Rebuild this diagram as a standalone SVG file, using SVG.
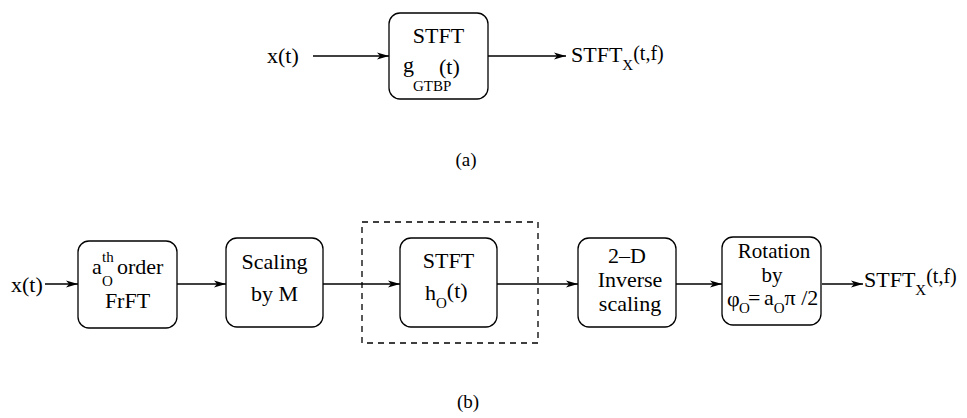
<svg xmlns="http://www.w3.org/2000/svg" width="967" height="418" viewBox="0 0 967 418">
<defs>
<marker id="ah" markerUnits="userSpaceOnUse" markerWidth="13" markerHeight="8" refX="12" refY="4" orient="auto">
<path d="M0,0.6 L12,4 L0,7.4 L3,4 z" fill="#000"/>
</marker>
<style>
text{font-family:"Liberation Serif","Times New Roman",Times,"DejaVu Serif",serif}
.t{font-size:22px;fill:#000}
.r{font-size:21px}
.s{font-size:15px}
.m{text-anchor:middle}
.box{fill:#fff;stroke:#000;stroke-width:1.3}
.ln{fill:none;stroke:#000;stroke-width:1.3;marker-end:url(#ah)}
.dash{fill:none;stroke:#000;stroke-width:1.3;stroke-dasharray:6 5}
.lbl{font-size:19px;fill:#000}
</style>
</defs>
<rect width="967" height="418" fill="#fff"/>
<g id="connectors">
<line class="ln" x1="313" y1="56" x2="389" y2="56"/>
<line class="ln" x1="488" y1="56" x2="566" y2="56"/>
<line class="ln" x1="45" y1="284" x2="78" y2="284"/>
<line class="ln" x1="177" y1="284" x2="226" y2="284"/>
<line class="ln" x1="323" y1="284" x2="400" y2="284"/>
<line class="ln" x1="497" y1="284" x2="578" y2="284"/>
<line class="ln" x1="676" y1="284" x2="722" y2="284"/>
<line class="ln" x1="822" y1="284" x2="863" y2="284"/>
</g>
<g id="a-input"><text class="t" x="267" y="63">x(t)</text></g>
<g id="a-stft">
<rect class="box" x="389" y="13" width="99" height="86" rx="11"/>
<text class="t m" x="438.5" y="43">STFT</text>
<text class="t" x="403" y="72">g</text>
<text class="t s" x="413" y="91">GTBP</text>
<text class="t" x="439" y="74">(t)</text>
</g>
<g id="a-output">
<text class="t" x="571" y="62">STFT<tspan class="s" dy="8">X</tspan><tspan dy="-10" style="font-size:20px">(t,f)</tspan></text>
</g>
<g id="label-a"><text class="lbl m" x="466" y="166">(a)</text></g>
<g id="b-input"><text class="t" x="11" y="292">x(t)</text></g>
<g id="b-frft">
<rect class="box" x="78" y="241" width="99" height="87" rx="11"/>
<text class="t" x="92" y="274">a</text>
<text class="t s" x="102" y="262">th</text>
<text class="t s" x="102" y="286">O</text>
<text class="t" x="117" y="274">order</text>
<text class="t m" x="127.5" y="308">FrFT</text>
</g>
<g id="b-scaling">
<rect class="box" x="226" y="238" width="97" height="89" rx="11"/>
<text class="t m" x="274.5" y="269">Scaling</text>
<text class="t m" x="274.5" y="301">by M</text>
</g>
<g id="b-stft-group">
<rect class="dash" x="362" y="222" width="176" height="121"/>
</g>
<g id="b-stft">
<rect class="box" x="400" y="238" width="97" height="89" rx="11"/>
<text class="t m" x="448.5" y="268">STFT</text>
<text class="t" x="425" y="300">h<tspan class="s" dy="8">O</tspan><tspan dy="-10">(t)</tspan></text>
</g>
<g id="b-inverse">
<rect class="box" x="578" y="238" width="98" height="89" rx="11"/>
<text class="t m" x="627" y="263">2–D</text>
<text class="t m" x="630" y="287">Inverse</text>
<text class="t m" x="630" y="311">scaling</text>
</g>
<g id="b-rotation">
<rect class="box" x="722" y="237" width="99" height="88" rx="11"/>
<text class="t r m" x="774" y="258">Rotation</text>
<text class="t r m" x="772" y="282">by</text>
<text class="t" x="727" y="306">φ</text>
<text class="t s" x="739" y="313">O</text>
<text class="t" x="748" y="305">=</text>
<text class="t" x="764" y="305">a<tspan class="s" dy="8">O</tspan><tspan dy="-8">π /2</tspan></text>
</g>
<g id="b-output">
<text class="t" x="864" y="287">STFT<tspan class="s" dy="8">X</tspan><tspan dy="-12" style="font-size:20px">(t,f)</tspan></text>
</g>
<g id="label-b"><text class="lbl m" x="468" y="408">(b)</text></g>
</svg>
